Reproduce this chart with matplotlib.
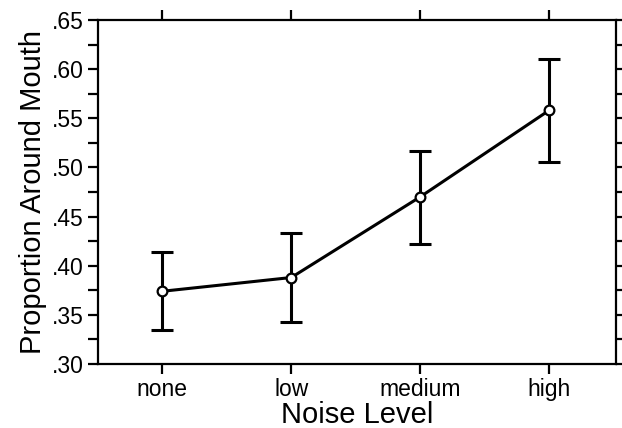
import matplotlib
matplotlib.use("Agg")
import matplotlib.pyplot as plt
from matplotlib.ticker import MultipleLocator

# данные
levels = ["none", "low", "medium", "high"]
means = [0.374, 0.388, 0.470, 0.558]
err_low = [0.335, 0.343, 0.422, 0.506]
err_high = [0.414, 0.433, 0.517, 0.610]

plt.rcParams["font.family"] = ["Liberation Sans", "DejaVu Sans"]

fig = plt.figure(figsize=(6.22, 4.28), dpi=100)
ax = fig.add_axes([98 / 622, 1 - 364 / 428, (616 - 98) / 622, (364 - 20) / 428])

x = list(range(len(levels)))
yerr = [[m - lo for m, lo in zip(means, err_low)],
        [hi - m for m, hi in zip(means, err_high)]]

ax.errorbar(x, means, yerr=yerr, fmt="none", ecolor="black",
            elinewidth=2.2, capsize=8, capthick=2.2, zorder=2)
ax.plot(x, means, color="black", linewidth=2.2, zorder=3)
ax.plot(x, means, "o", markersize=7, markerfacecolor="white",
        markeredgecolor="black", markeredgewidth=1.6, zorder=4)

ax.set_xlim(-0.5, 3.52)
ax.set_ylim(0.30, 0.65)
ax.set_xticks(x)
ax.set_xticklabels(levels)
ax.yaxis.set_major_locator(MultipleLocator(0.05))
ax.yaxis.set_minor_locator(MultipleLocator(0.025))
# подписи без нуля: .30, .35 ...
ax.yaxis.set_major_formatter(lambda v, pos: f"{v:.2f}"[1:])

ax.tick_params(axis="both", which="both", direction="out", width=1.6,
               length=7, labelsize=16.5, top=True, right=True,
               labeltop=False, labelright=False, pad=3)
for s in ax.spines.values():
    s.set_linewidth(1.6)

ax.set_xlabel("Noise Level", fontsize=21, labelpad=0)
ax.set_ylabel("Proportion Around Mouth", fontsize=21, labelpad=4)

fig.savefig("out.png", dpi=100)
